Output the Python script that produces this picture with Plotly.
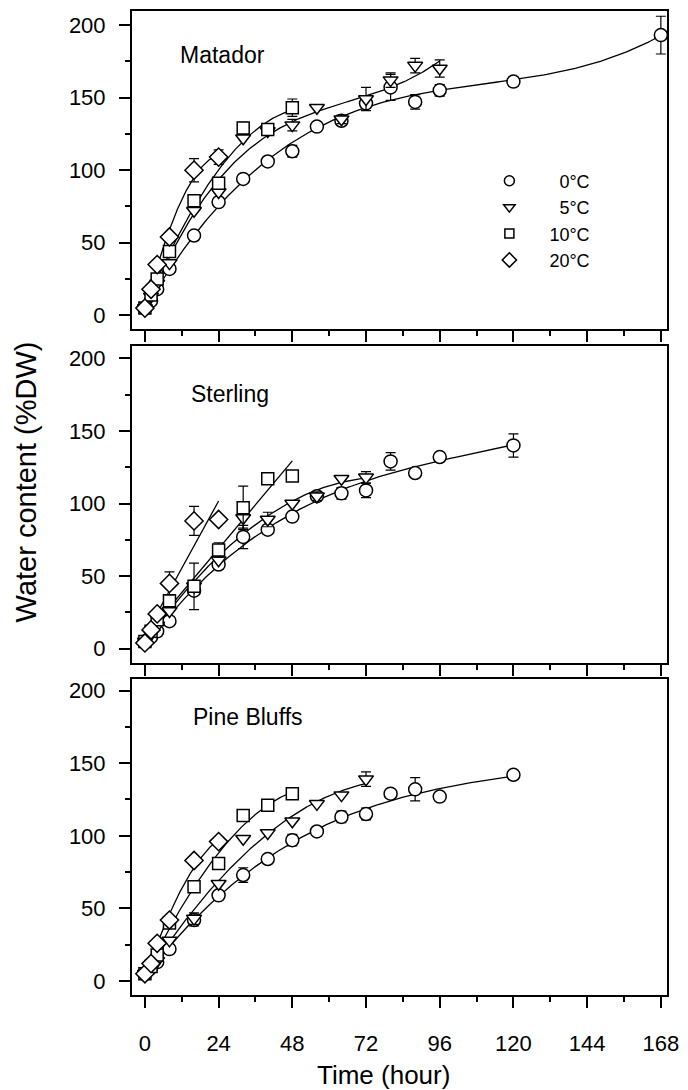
import numpy as np
import plotly.graph_objects as go
from plotly.subplots import make_subplots

cultivars = ["Matador", "Sterling", "Pine Bluffs"]
temp_labels = ["0°C", "5°C", "10°C", "20°C"]
x_ticks = [0, 24, 48, 72, 96, 120, 144, 168]

# ---------------- Matador ----------------
mat_t0 = [0, 2, 4, 8, 16, 24, 32, 40, 48, 56, 64, 72, 80, 88, 96, 120, 168]
mat_v0 = [5, 10, 18, 32, 55, 78, 94, 106, 113, 130, 134, 146, 157, 147, 155, 161, 193]
mat_e0 = [0, 0, 0, 0, 0, 0, 0, 0, 4, 0, 3, 0, 9, 5, 4, 3, 13]
mat_t5 = [0, 2, 4, 8, 16, 24, 32, 40, 48, 56, 64, 72, 80, 88, 96]
mat_v5 = [5, 13, 22, 36, 72, 85, 122, 127, 131, 143, 135, 149, 162, 172, 170]
mat_e5 = [0, 0, 0, 0, 0, 0, 0, 0, 4, 0, 3, 8, 5, 5, 6]
mat_t10 = [0, 2, 4, 8, 16, 24, 32, 40, 48]
mat_v10 = [5, 14, 25, 44, 79, 91, 129, 128, 143]
mat_e10 = [0, 0, 0, 0, 0, 0, 4, 3, 6]
mat_t20 = [0, 2, 4, 8, 16, 24]
mat_v20 = [5, 18, 35, 54, 100, 109]
mat_e20 = [0, 0, 0, 0, 8, 5]

# ---------------- Sterling ----------------
ste_t0 = [0, 2, 4, 8, 16, 24, 32, 40, 48, 56, 64, 72, 80, 88, 96, 120]
ste_v0 = [5, 8, 12, 19, 40, 58, 77, 82, 91, 105, 107, 109, 129, 121, 132, 140]
ste_e0 = [0, 0, 0, 0, 0, 0, 8, 0, 0, 0, 4, 5, 6, 0, 0, 8]
ste_t5 = [0, 2, 4, 8, 16, 24, 32, 40, 48, 56, 64, 72]
ste_v5 = [5, 10, 16, 26, 43, 61, 90, 89, 100, 105, 117, 118]
ste_e5 = [0, 0, 0, 0, 0, 0, 7, 5, 0, 3, 0, 4]
ste_t10 = [0, 2, 4, 8, 16, 24, 32, 40, 48]
ste_v10 = [5, 12, 20, 33, 43, 68, 97, 117, 119]
ste_e10 = [0, 0, 0, 0, 16, 5, 15, 3, 0]
ste_t20 = [0, 2, 4, 8, 16, 24]
ste_v20 = [4, 13, 24, 45, 88, 89]
ste_e20 = [0, 0, 0, 8, 10, 0]

# ---------------- Pine Bluffs ----------------
pin_t0 = [0, 2, 4, 8, 16, 24, 32, 40, 48, 56, 64, 72, 80, 88, 96, 120]
pin_v0 = [5, 9, 13, 22, 42, 59, 73, 84, 97, 103, 113, 115, 129, 132, 127, 142]
pin_e0 = [0, 0, 0, 0, 4, 0, 5, 0, 4, 0, 4, 4, 0, 8, 3, 0]
pin_t5 = [0, 2, 4, 8, 16, 24, 32, 40, 48, 56, 64, 72]
pin_v5 = [5, 8, 14, 28, 43, 67, 98, 102, 110, 122, 128, 139]
pin_e5 = [0, 0, 0, 0, 4, 0, 0, 0, 0, 0, 0, 5]
pin_t10 = [0, 2, 4, 8, 16, 24, 32, 40, 48]
pin_v10 = [5, 10, 18, 40, 65, 81, 114, 121, 129]
pin_e10 = [0, 0, 0, 0, 0, 0, 3, 0, 3]
pin_t20 = [0, 2, 4, 8, 16, 24]
pin_v20 = [5, 12, 26, 42, 83, 96]
pin_e20 = [0, 0, 0, 0, 0, 0]

series = {
    "Matador": [(mat_t0, mat_v0, mat_e0), (mat_t5, mat_v5, mat_e5),
                (mat_t10, mat_v10, mat_e10), (mat_t20, mat_v20, mat_e20)],
    "Sterling": [(ste_t0, ste_v0, ste_e0), (ste_t5, ste_v5, ste_e5),
                 (ste_t10, ste_v10, ste_e10), (ste_t20, ste_v20, ste_e20)],
    "Pine Bluffs": [(pin_t0, pin_v0, pin_e0), (pin_t5, pin_v5, pin_e5),
                    (pin_t10, pin_v10, pin_e10), (pin_t20, pin_v20, pin_e20)],
}
# polynomial degree of the regression curve drawn for each series
fit_deg = {"Matador": [3, 3, 2, 2], "Sterling": [3, 2, 1, 1], "Pine Bluffs": [3, 2, 2, 2]}

symbols = ["circle", "triangle-down", "square", "diamond"]
sizes = [13, 13, 12, 14]
leg_sizes = [10, 10, 9, 11]
leg_text = ["\u2007\u2007\u20070°C", "\u2007\u2007\u20075°C",
            "\u2007\u200710°C", "\u2007\u200720°C"]

FONT = "Liberation Sans, Arial, Helvetica, sans-serif"

fig = make_subplots(rows=3, cols=1)

for r, cv in enumerate(cultivars, start=1):
    for k, (t, v, e) in enumerate(series[cv]):
        coef = np.polyfit(t, v, fit_deg[cv][k])
        tt = np.linspace(min(t), max(t), 200)
        fig.add_trace(go.Scatter(x=tt, y=np.polyval(coef, tt), mode="lines",
                                 line=dict(color="black", width=1.3),
                                 showlegend=False, hoverinfo="skip"), row=r, col=1)
    for k, (t, v, e) in enumerate(series[cv]):
        err = [x if x > 0 else None for x in e]
        fig.add_trace(go.Scatter(x=t, y=v, mode="markers",
                                 marker=dict(symbol=symbols[k], size=sizes[k], color="white",
                                             line=dict(color="black", width=1.5)),
                                 error_y=dict(type="data", array=err, visible=True,
                                              color="black", thickness=1.2, width=5),
                                 showlegend=False), row=r, col=1)

# legend-only entries
for k in range(4):
    fig.add_trace(go.Scatter(x=[None], y=[None], mode="markers", name=leg_text[k],
                             marker=dict(symbol=symbols[k], size=leg_sizes[k], color="white",
                                         line=dict(color="black", width=1.5)),
                             showlegend=True), row=1, col=1)

domains = [[0.6765, 1.0], [0.3377, 0.6592], [0.0, 0.3215]]
yranges = [[-9.6, 209.6], [-9.6, 208.2], [-9.6, 208.2]]

for r in range(1, 4):
    fig.update_xaxes(range=[-4.2, 170.0], tickvals=x_ticks, ticks="outside", ticklen=11,
                     tickwidth=1.5, tickcolor="black", showline=True, mirror=True,
                     linecolor="black", linewidth=2, showgrid=False, zeroline=False,
                     showticklabels=(r == 3), ticklabelstandoff=17,
                     tickfont=dict(family=FONT, size=22, color="black"),
                     minor=dict(ticks="outside", ticklen=5, tickwidth=1.5, tickcolor="black",
                                tick0=0, dtick=12, showgrid=False),
                     row=r, col=1)
    fig.update_yaxes(range=yranges[r - 1], domain=domains[r - 1], tickvals=[0, 50, 100, 150, 200],
                     ticks="outside", ticklen=11, tickwidth=1.5, tickcolor="black",
                     showline=True, mirror=True, linecolor="black", linewidth=2,
                     showgrid=False, zeroline=False, ticklabelstandoff=9,
                     tickfont=dict(family=FONT, size=22, color="black"),
                     minor=dict(ticks="outside", ticklen=5, tickwidth=1.5, tickcolor="black",
                                tick0=0, dtick=25, showgrid=False),
                     row=r, col=1)

annotations = [
    dict(text="Matador", x=10.9, y=179.4, xref="x", yref="y", xanchor="left", yanchor="middle",
         showarrow=False, font=dict(family=FONT, size=23, color="black")),
    dict(text="Sterling", x=14.5, y=175.3, xref="x2", yref="y2", xanchor="left", yanchor="middle",
         showarrow=False, font=dict(family=FONT, size=23, color="black")),
    dict(text="Pine Bluffs", x=15.0, y=181.6, xref="x3", yref="y3", xanchor="left", yanchor="middle",
         showarrow=False, font=dict(family=FONT, size=23, color="black")),
    dict(text="Water content (%DW)", x=-0.198, y=0.521, xref="paper", yref="paper",
         xanchor="center", yanchor="middle", textangle=-90, showarrow=False,
         font=dict(family=FONT, size=29, color="black")),
    dict(text="Time (hour)", x=0.47, y=-0.081, xref="paper", yref="paper",
         xanchor="center", yanchor="middle", showarrow=False,
         font=dict(family=FONT, size=26, color="black")),
]

fig.update_layout(
    width=688, height=1090,
    margin=dict(l=132, r=15, t=9, b=95),
    paper_bgcolor="white", plot_bgcolor="white",
    annotations=annotations,
    showlegend=True,
    legend=dict(x=0.668, y=0.846, xanchor="left", yanchor="top",
                bgcolor="rgba(0,0,0,0)", borderwidth=0,
                font=dict(family=FONT, size=18, color="black"),
                tracegroupgap=0),
)

fig.write_html("out.html", config={"displayModeBar": False},
               post_script="document.body.style.margin='0px';")
